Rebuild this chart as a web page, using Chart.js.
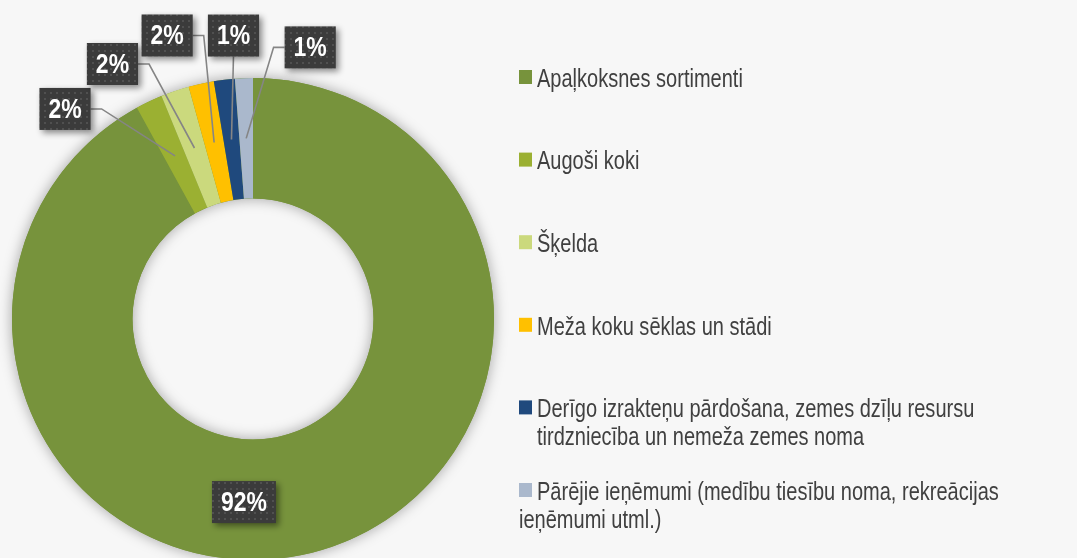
<!DOCTYPE html>
<html>
<head>
<meta charset="utf-8">
<script src="https://cdn.jsdelivr.net/npm/chart.js@4"></script>
<style>
  html, body { margin: 0; padding: 0; background: #f7f7f7; overflow: hidden; }
  #wrap { position: relative; width: 1077px; height: 600px; }
</style>
</head>
<body>
<div id="wrap"><canvas id="chart"></canvas></div>
<script>
// categories (multi-line ones are split where the original legend wraps)
const labels = [
	'Apaļkoksnes sortimenti',
	'Augoši koki',
	'Šķelda',
	'Meža koku sēklas un stādi',
	['Derīgo izrakteņu pārdošana, zemes dzīļu resursu', 'tirdzniecība un nemeža zemes noma'],
	['Pārējie ieņēmumi (medību tiesību noma, rekreācijas', 'ieņēmumi utml.)']
];
// share of revenue, %
const shares = [92.0, 1.8, 1.9, 1.7, 1.4, 1.2];
const colors = ['#77933c', '#9bb032', '#cbd97d', '#ffc000', '#1f497d', '#aab8cc'];

// no narrow font installed -> squeeze Liberation Sans horizontally
const FONT = "'Liberation Sans', Arial, sans-serif";

function narrowText(ctx, text, x, y, sx) {
	ctx.save();
	ctx.translate(x, y);
	ctx.scale(sx, 1);
	ctx.fillText(text, 0, 0);
	ctx.restore();
}

// dotted dark fill for the value boxes
const patCanvas = document.createElement('canvas');
patCanvas.width = 6; patCanvas.height = 6;
const pctx = patCanvas.getContext('2d');
pctx.fillStyle = '#3b3b3b'; pctx.fillRect(0, 0, 6, 6);
pctx.fillStyle = '#505050'; pctx.fillRect(2, 2, 2, 2);

const ringShadow = {
	id: 'ringShadow',
	beforeDatasetsDraw(chart) {
		const arc = chart.getDatasetMeta(0).data[0];
		if (!arc) return;
		const { x, y, innerRadius, outerRadius } = arc.getProps(['x', 'y', 'innerRadius', 'outerRadius'], true);
		const ctx = chart.ctx;
		ctx.save();
		ctx.shadowColor = 'rgba(0,0,0,0.35)';
		ctx.shadowBlur = 14;
		ctx.beginPath();
		ctx.arc(x, y, outerRadius, 0, Math.PI * 2);
		ctx.arc(x, y, innerRadius, 0, Math.PI * 2, true);
		ctx.fillStyle = colors[0];
		ctx.fill();
		ctx.restore();
	}
};

const valueBoxes = {
	id: 'valueBoxes',
	afterDatasetsDraw(chart, args, opts) {
		const ctx = chart.ctx;
		const data = chart.data.datasets[0].data;
		const total = data.reduce((a, b) => a + b, 0);
		const pattern = ctx.createPattern(patCanvas, 'repeat');
		chart.getDatasetMeta(0).data.forEach((arc, i) => {
			const p = arc.getCenterPoint();
			const [dx, dy] = opts.offsets[i];
			const cx = p.x + dx, cy = p.y + dy;
			const text = Math.round(data[i] / total * 100) + '%';
			ctx.save();
			ctx.font = 'bold 28px ' + FONT;
			const tw = ctx.measureText(text).width * opts.squeeze;
			const w = tw + 18, h = 42;
			const bx = cx - w / 2, by = cy - h / 2;

			// leader line
			if (i > 0) {
				ctx.strokeStyle = '#858585';
				ctx.lineWidth = 1.6;
				ctx.beginPath();
				if (Math.abs(dx) < w / 2) {
					ctx.moveTo(p.x + 2, by + h);
				} else {
					const ex = dx < 0 ? bx + w : bx;
					ctx.moveTo(ex, cy);
					ctx.lineTo(ex + (dx < 0 ? 11 : -11), cy);
				}
				ctx.lineTo(p.x, p.y);
				ctx.stroke();
			}

			ctx.shadowColor = 'rgba(0,0,0,0.45)';
			ctx.shadowBlur = 6;
			ctx.shadowOffsetX = 3;
			ctx.shadowOffsetY = 3;
			ctx.fillStyle = pattern;
			ctx.fillRect(bx, by, w, h);
			ctx.shadowColor = 'transparent';
			ctx.fillStyle = '#ffffff';
			ctx.textAlign = 'left';
			ctx.textBaseline = 'middle';
			narrowText(ctx, text, cx - tw / 2, cy + 1, opts.squeeze);
			ctx.restore();
		});
	}
};

const sideLegend = {
	id: 'sideLegend',
	afterDraw(chart, args, opts) {
		const ctx = chart.ctx;
		ctx.save();
		ctx.font = '26px ' + FONT;
		ctx.textBaseline = 'alphabetic';
		chart.data.labels.forEach((lab, i) => {
			const cy = opts.top + i * opts.step;
			ctx.fillStyle = colors[i];
			ctx.fillRect(opts.x, cy - 7, 13, 14);
			ctx.fillStyle = '#404040';
			const lines = Array.isArray(lab) ? lab : [lab];
			lines.forEach((line, j) => {
				const tx = (j > 0 && opts.hangUnder.includes(i)) ? opts.x : opts.x + 18;
				narrowText(ctx, line, tx, cy + 9.7 + j * opts.lineGap, opts.squeeze);
			});
		});
		ctx.restore();
	}
};

new Chart(document.getElementById('chart'), {
	type: 'doughnut',
	data: {
		labels: labels,
		datasets: [{
			data: shares,
			backgroundColor: colors,
			borderWidth: 0
		}]
	},
	options: {
		responsive: true,
		maintainAspectRatio: false,
		animation: false,
		cutout: '50%',
		layout: { padding: { left: 12, right: 583, top: 78, bottom: 40 } },
		plugins: {
			legend: { display: false },
			tooltip: { enabled: false },
			valueBoxes: {
				squeeze: 0.82,
				offsets: [[-54, 8], [-110, -47], [-82, -84], [-47, -107], [2, -104], [64, -91]]
			},
			sideLegend: { x: 519, top: 77, step: 82.6, lineGap: 28.3, hangUnder: [5], squeeze: 0.77 }
		}
	},
	plugins: [ringShadow, valueBoxes, sideLegend]
});
</script>
</body>
</html>
